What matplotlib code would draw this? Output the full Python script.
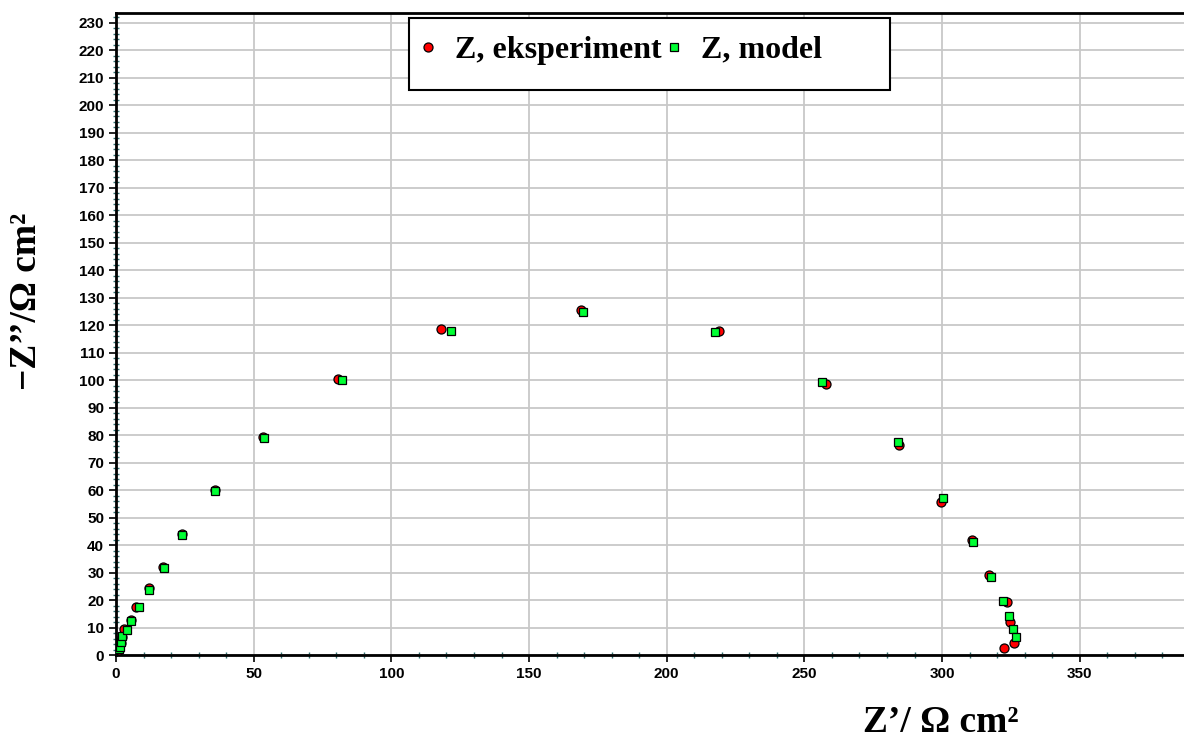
import matplotlib
matplotlib.use("Agg")
import matplotlib.pyplot as plt
import matplotlib.ticker as tick
from matplotlib.patches import Rectangle

# Nyquist data (Z' and -Z'' in ohm cm2)
exp_re = [0.9, 1.2, 1.7, 2.2, 2.9, 5.4, 7.4, 11.8, 17.0, 24.0, 36.0, 53.5, 80.5, 118.0,
          169.0, 219.0, 258.0, 284.5, 299.5, 311.0, 317.0, 323.6, 324.6, 326.1, 322.4]
exp_im = [2.0, 3.0, 4.5, 6.5, 9.5, 12.6, 17.6, 24.2, 32.0, 44.0, 60.0, 79.2, 100.5, 118.5,
          125.6, 118.0, 98.5, 76.2, 55.5, 41.7, 29.0, 19.4, 12.1, 4.5, 2.4]

mod_re = [1.0, 1.3, 1.9, 2.3, 4.0, 5.3, 8.4, 12.0, 17.3, 24.0, 35.8, 53.8, 82.0, 121.5,
          169.5, 217.5, 256.5, 284.0, 300.5, 311.2, 317.8, 322.0, 324.3, 325.6, 326.7]
mod_im = [2.1, 3.0, 4.8, 6.9, 9.1, 12.5, 17.3, 23.5, 31.8, 43.8, 59.5, 79.0, 100.0, 117.8,
          124.6, 117.4, 99.2, 77.4, 57.0, 41.0, 28.5, 19.7, 14.2, 9.5, 6.7]

fig = plt.figure(figsize=(11.84, 7.45), dpi=100)
ax = fig.add_axes([0.098, 0.1208, 0.907, 0.8618])

ax.plot(exp_re, exp_im, "o", ms=6.5, mfc="#ff0000", mec="black", mew=0.9,
        label="Z, eksperiment", zorder=3)
ax.plot(mod_re, mod_im, "s", ms=5.5, mfc="#00ff33", mec="black", mew=0.9,
        label="Z, model", zorder=4)

ax.set_xlim(0, 390)
ax.set_ylim(0, 233.5)
ax.xaxis.set_major_locator(tick.MultipleLocator(50))
ax.xaxis.set_minor_locator(tick.MultipleLocator(10))
ax.yaxis.set_major_locator(tick.MultipleLocator(10))
ax.yaxis.set_minor_locator(tick.MultipleLocator(2))
ax.grid(True, which="major", color="#c8c8c8", lw=1.3)
ax.set_axisbelow(True)

ax.tick_params(which="major", direction="out", length=5, width=1.2, color="black",
               labelsize=11)
ax.tick_params(which="minor", direction="inout", length=4, width=1, color="#2f7070")
for lab in ax.get_xticklabels() + ax.get_yticklabels():
    lab.set_fontfamily("Liberation Sans")
    lab.set_fontweight("bold")

for s in ["left", "bottom", "top"]:
    ax.spines[s].set_linewidth(2)
    ax.spines[s].set_color("black")
ax.spines["right"].set_visible(False)

serif = {"family": "Liberation Serif", "weight": "bold"}
fig.text(0.795, 0.03, "Z\u2019/ \u03a9 cm\u00b2", fontdict=serif, fontsize=27,
         ha="center", va="center")
fig.text(0.022, 0.595, "\u2212Z\u2019\u2019/\u03a9 cm\u00b2", fontdict=serif, fontsize=27,
         ha="center", va="center", rotation=90)

# legend box is wider than its content in the original, so draw the frame separately
ax.add_patch(Rectangle((0.2728, 0.880), 0.4479, 0.1121, transform=ax.transAxes,
                       facecolor="white", edgecolor="black", lw=1.5, zorder=5,
                       clip_on=False))
leg = ax.legend(loc="center left", bbox_to_anchor=(0.2812, 0.942), ncol=2,
                prop={"family": "Liberation Serif", "weight": "bold", "size": 23},
                frameon=False, handletextpad=0.55, columnspacing=0.1,
                handlelength=0.6, borderpad=0, borderaxespad=0, markerscale=1.0)
leg.set_zorder(6)

fig.savefig("out.png", dpi=100)
